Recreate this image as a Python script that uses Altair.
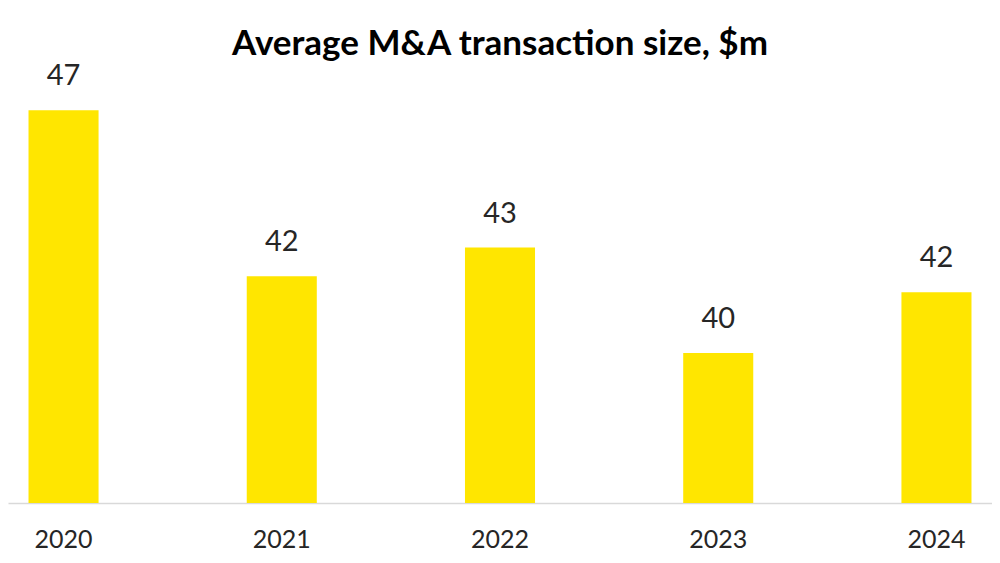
import altair as alt
import pandas as pd

years = ["2020", "2021", "2022", "2023", "2024"]
values = [47.3, 42.1, 43.0, 39.7, 41.6]

df = pd.DataFrame({"year": years, "value": values})

FONT = "Lato"

base = alt.Chart(df).encode(
    x=alt.X(
        "year:N",
        sort=years,
        scale=alt.Scale(paddingInner=0.679, paddingOuter=0.094),
        axis=alt.Axis(
            title=None,
            ticks=False,
            domainColor="#d9d9d9",
            domainWidth=1.5,
            labelFont=FONT,
            labelFontSize=25,
            labelColor="#262626",
            labelPadding=24,
            labelAngle=0,
        ),
    ),
    y=alt.Y(
        "value:Q",
        scale=alt.Scale(domain=[35, 48.5], zero=False, nice=False, clamp=True),
        axis=None,
    ),
)

bars = base.mark_bar(color="#FFE600")
labels = base.mark_text(
    dy=-25, font=FONT, fontSize=29, color="#262626", baseline="alphabetic"
).encode(text=alt.Text("value:Q", format=".0f"))

chart = (
    (bars + labels)
    .properties(
        width=984,
        height=431,
        title=alt.TitleParams(
            "Average M&A transaction size, $m",
            font=FONT,
            fontSize=35,
            fontWeight="bold",
            color="#000000",
            anchor="middle",
            offset=0,
        ),
        autosize=alt.AutoSizeParams(type="none"),
        padding={"left": 0, "top": 64, "right": 0, "bottom": 60},
    )
    .configure(background="white")
    .configure_view(strokeWidth=0, stroke=None)
)

chart.save("out.html", embed_options={"renderer": "svg", "actions": False})
